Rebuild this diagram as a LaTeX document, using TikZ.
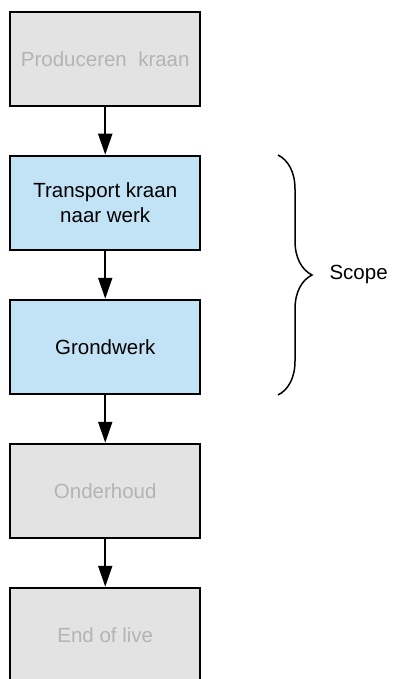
\documentclass[tikz,border=0pt]{standalone}
\usepackage{fontspec}
\setmainfont{Liberation Sans}
\usepackage{xcolor}
\usetikzlibrary{positioning,
	decorations.pathreplacing,
	arrows.meta}
\definecolor{phasegray}{HTML}{E3E3E3}
\definecolor{phaseblue}{HTML}{C2E3F6}
\definecolor{fadedtext}{HTML}{B4B4B4}
\tikzstyle{phase}=[draw, line width=2pt, minimum width=190pt, minimum height=94pt,
		align=center, font=\fontsize{20.5}{25.5}\selectfont]
\tikzstyle{oldphase}=[phase, fill=phasegray, text=fadedtext]
\tikzstyle{inphase}=[phase, fill=phaseblue, text=black]
\tikzstyle{flow}=[line width=2pt, -{Triangle[length=21pt, width=14pt]}]

\begin{document}
\begin{tikzpicture}[node distance=48pt]
        \useasboundingbox (0pt,0pt) rectangle (392pt,-679pt);
        % the life cycle of the crane, top to bottom
        \node[oldphase] (prod) at (105.25pt,-58.75pt) {Produceren~~kraan};
        \node[inphase, below=of prod] (trans) {Transport kraan\\naar werk};
        \node[inphase, below=of trans] (grond) {Grondwerk};
        \node[oldphase, below=of grond] (onder) {Onderhoud};
        \node[oldphase, below=of onder] (eol) {End of live};
        \draw[flow] (prod) -- (trans);
        \draw[flow] (trans) -- (grond);
        \draw[flow] (grond) -- (onder);
        \draw[flow] (onder) -- (eol);
        % brace round the two blue steps
        \coordinate (btop) at (278pt,-155pt);
        \coordinate (bbot) at (278pt,-395pt);
        \draw[line width=1.5pt, decorate, decoration={brace, amplitude=34pt}] (btop) -- (bbot);
        \node[anchor=west, font=\fontsize{20.5}{25.5}\selectfont] (scope) at (326pt,-274pt) {Scope};
    \end{tikzpicture}
\end{document}
